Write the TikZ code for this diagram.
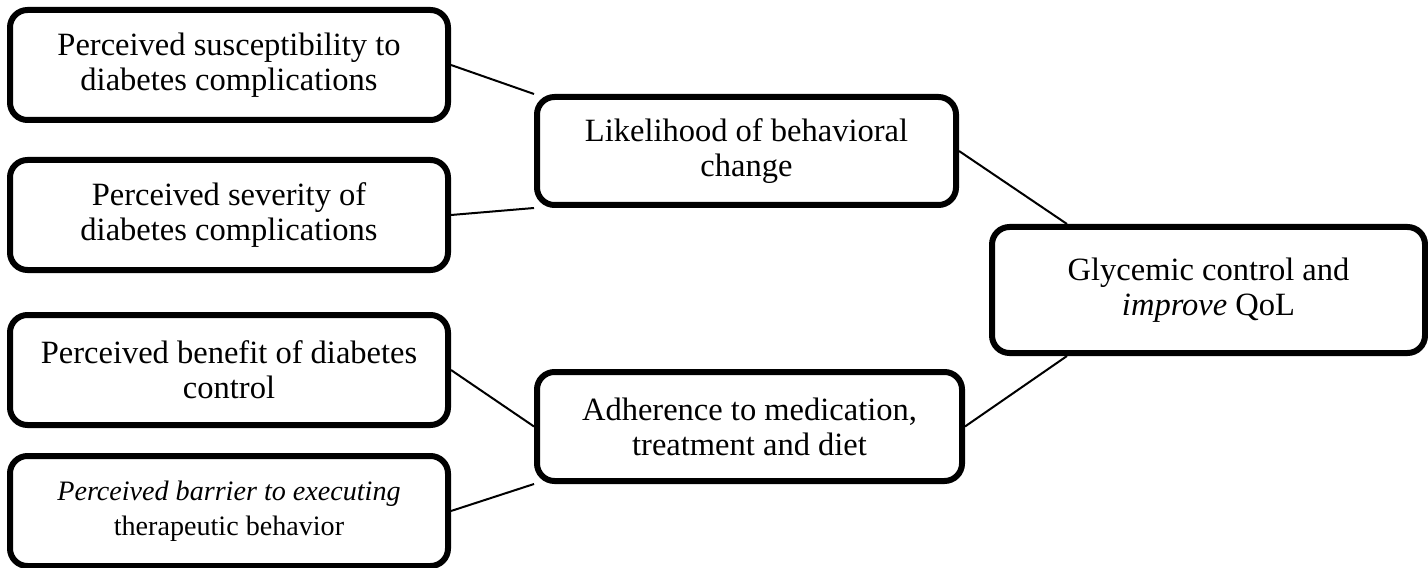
\documentclass[tikz,border=0pt]{standalone}
\usepackage{fontspec}
\setmainfont{Liberation Serif}
\begin{document}
\begin{tikzpicture}[
		box/.style={draw, line width=1.2mm, rounded corners=3.5mm, align=center, inner sep=0pt,
			font=\fontsize{18.5}{20}\selectfont},
		link/.style={line width=0.4mm}]
	\useasboundingbox (0,0) rectangle (28.56,11.34);
	
	\node [box, minimum width=8.76cm, minimum height=2.2cm] (susc) at (4.58,10.04) {Perceived susceptibility to\\ diabetes complications};
	\node [box, minimum width=8.76cm, minimum height=2.2cm] (sev) at (4.58,7.04) {Perceived severity of\\ diabetes complications};
	\node [box, minimum width=8.76cm, minimum height=2.2cm] (ben) at (4.58,3.94) {Perceived benefit of diabetes\\ control};
	\node [box, minimum width=8.76cm, minimum height=2.2cm, font=\fontsize{16}{20}\selectfont] (barr) at (4.58,1.12) {\textit{Perceived barrier to executing}\\ therapeutic behavior};
	
	\node [box, minimum width=8.38cm, minimum height=2.16cm] (lik) at (14.93,8.32) {Likelihood of behavioral\\ change};
	\node [box, minimum width=8.5cm, minimum height=2.18cm] (adh) at (14.99,2.81) {Adherence to medication,\\ treatment and diet};
	
	\node [box, minimum width=8.66cm, minimum height=2.52cm] (qol) at (24.17,5.54) {Glycemic control and\\ \textit{improve} QoL};
	
	\draw [link] (susc.east) -- (lik.north west);
	\draw [link] (sev.east) -- (lik.south west);
	\draw [link] (ben.east) -- (adh.west);
	\draw [link] (barr.east) -- (adh.south west);
	
	\draw [link] (lik.east) -- (qol.155);
	\draw [link] (qol.205) -- (adh.east);
	
\end{tikzpicture}
\end{document}
